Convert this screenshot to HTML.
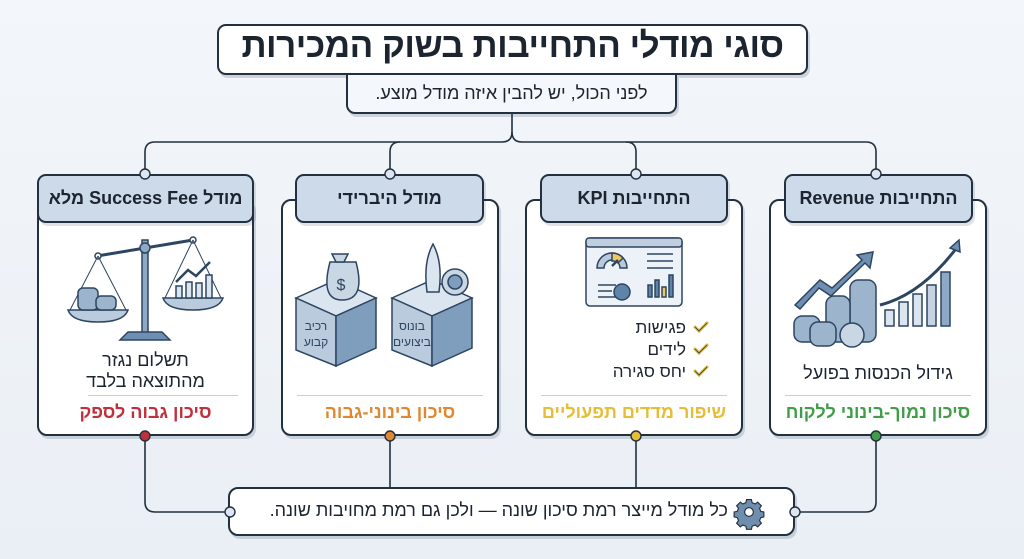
<!DOCTYPE html>
<html><head><meta charset="utf-8"><style>
*{margin:0;padding:0;box-sizing:border-box}
body{width:1024px;height:559px;overflow:hidden;background:linear-gradient(180deg,#f3f6fa,#eaeff5);font-family:"Liberation Sans","Noto Sans CJK JP",sans-serif;position:relative;color:#1c2430}
.a{position:absolute}
.box{position:absolute;background:#fff;border:2px solid #23303f;border-radius:10px;box-shadow:2px 3px 0 rgba(40,60,90,.18)}
.tab{position:absolute;background:#cddaea;border:2px solid #23303f;border-radius:9px;box-shadow:2px 3px 0 rgba(40,60,90,.15);display:flex;align-items:center;justify-content:center;font-weight:bold;font-size:18px;direction:rtl;color:#1c2430}
.t{position:absolute;direction:rtl;text-align:center;white-space:nowrap}
.risk{font-weight:bold;font-size:18px}
.div{position:absolute;height:1px;background:#c9cfd6}
</style></head><body>
<svg class="a" style="left:0;top:0" width="1024" height="559">
<g fill="none" stroke="#23303f" stroke-width="1.6">
<path d="M512 113 V132 Q512 142 502 142 H155 Q145 142 145 152 V174"/>
<path d="M512 132 Q512 142 522 142 H866 Q876 142 876 152 V174"/>
<path d="M400 142 Q390 142 390 152 V174"/>
<path d="M626 142 Q636 142 636 152 V174"/>
<path d="M145 436 V502 Q145 512 155 512 H230"/>
<path d="M390 436 V488"/>
<path d="M636 436 V488"/>
<path d="M876 436 V502 Q876 512 866 512 H795"/>
</g>
</svg>
<div class="box" style="left:217px;top:24px;width:591px;height:51px;border-radius:9px"></div>
<div class="t" style="left:217px;top:26px;width:591px;font-size:35px;font-weight:bold;letter-spacing:-0.5px">סוגי מודלי התחייבות בשוק המכירות</div>
<div class="box" style="left:346px;top:75px;width:331px;height:39px;border-top:none;border-radius:0 0 9px 9px;background:#f4f7fb"></div>
<div class="t" style="left:346px;top:83px;width:331px;font-size:18px">לפני הכול, יש להבין איזה מודל מוצע.</div>

<div class="box" style="left:37px;top:198px;width:217px;height:238px"></div>
<div class="tab" style="left:37px;top:174px;width:217px;height:49px">מודל Success Fee מלא</div>
<div class="box" style="left:281px;top:199px;width:218px;height:237px"></div>
<div class="tab" style="left:295px;top:174px;width:189px;height:49px">מודל היברידי</div>
<div class="box" style="left:525px;top:199px;width:218px;height:237px"></div>
<div class="tab" style="left:540px;top:174px;width:188px;height:49px">התחייבות KPI</div>
<div class="box" style="left:769px;top:199px;width:218px;height:237px"></div>
<div class="tab" style="left:784px;top:174px;width:189px;height:49px">התחייבות Revenue</div>

<div class="div" style="left:88px;top:395px;width:150px"></div>
<div class="div" style="left:297px;top:395px;width:186px"></div>
<div class="div" style="left:541px;top:395px;width:186px"></div>
<div class="div" style="left:785px;top:395px;width:186px"></div>

<div class="t" style="left:37px;top:350px;width:217px;font-size:18px;line-height:21px">תשלום נגזר<br>מהתוצאה בלבד</div>
<div class="t risk" style="left:37px;top:402px;width:217px;color:#c0303a">סיכון גבוה לספק</div>
<div class="t risk" style="left:281px;top:402px;width:218px;color:#e0872f">סיכון בינוני-גבוה</div>
<div class="t risk" style="left:525px;top:402px;width:218px;color:#e6bd35">שיפור מדדים תפעוליים</div>
<div class="t" style="left:769px;top:363px;width:218px;font-size:18px">גידול הכנסות בפועל</div>
<div class="t risk" style="left:769px;top:402px;width:218px;color:#3f9e47">סיכון נמוך-בינוני ללקוח</div>
<div class="t" style="left:580px;top:317px;width:106px;text-align:right;font-size:17px;line-height:22px">פגישות<br>לידים<br>יחס סגירה</div>

<div class="box" style="left:228px;top:487px;width:567px;height:49px"></div>
<div class="t" style="left:240px;top:500px;width:488px;font-size:18px;text-align:right">כל מודל מייצר רמת סיכון שונה — ולכן גם רמת מחויבות שונה.</div>

<svg class="a" style="left:0;top:0" width="1024" height="559">
<g stroke="#23303f" stroke-width="1.4">
<circle cx="145" cy="174" r="5" fill="#dde6f0"/><circle cx="390" cy="174" r="5" fill="#dde6f0"/>
<circle cx="636" cy="174" r="5" fill="#dde6f0"/><circle cx="876" cy="174" r="5" fill="#dde6f0"/>
<circle cx="145" cy="436" r="5" fill="#c0303a"/><circle cx="390" cy="436" r="5" fill="#e0872f"/>
<circle cx="636" cy="436" r="5" fill="#e6bd35"/><circle cx="876" cy="436" r="5" fill="#3f9e47"/>
<circle cx="230" cy="512" r="5" fill="#dde6f0"/><circle cx="795" cy="512" r="5" fill="#dde6f0"/>
</g>
<g transform="translate(749,512) scale(0.62)" fill="#6f8dad" stroke="#23303f" stroke-width="1.8">
<path d="M-4 -20h8l1 5 5 2 4-3 6 6-3 4 2 5 5 1v8l-5 1-2 5 3 4-6 6-4-3-5 2-1 5h-8l-1-5-5-2-4 3-6-6 3-4-2-5-5-1v-8l5-1 2-5-3-4 6-6 4 3 5-2z"/>
<circle r="7" fill="#fff"/>
</g>
<g fill="none" stroke="#d8b63a" stroke-width="3" stroke-linecap="round">
<path d="M695 327l4 4 8-8"/><path d="M695 349l4 4 8-8"/><path d="M695 371l4 4 8-8"/>
</g>
<g stroke="#2d3e52" stroke-width="0.8" fill="none"><path d="M695 327l4 4 8-8"/><path d="M695 349l4 4 8-8"/><path d="M695 371l4 4 8-8"/></g>
<g stroke="#2d4560" stroke-width="1.5">
<rect x="586" y="238" width="96" height="68" rx="4" fill="#edf2f8"/>
<rect x="586" y="238" width="96" height="9" rx="3" fill="#bfcfe0"/>
<path d="M597 268a15 15 0 0 1 30 0h-7a8 8 0 0 0-16 0z" fill="#b8c9dc"/>
<path d="M612 253a15 15 0 0 1 11 5l-5 5a8 8 0 0 0-6-2z" fill="#f0c95c"/>
<path d="M612 266l6-6" stroke-width="2.5"/>
<circle cx="622" cy="292" r="8" fill="#5e84aa"/>
<rect x="648" y="285" width="4" height="12" fill="#5e84aa"/><rect x="655" y="280" width="4" height="17" fill="#5e84aa"/>
<rect x="662" y="287" width="4" height="10" fill="#f0c95c"/><rect x="669" y="275" width="4" height="22" fill="#5e84aa"/>
<path d="M598 285h18M598 291h14M598 297h18M647 254h26M647 261h26M647 268h26"/>
</g>
<g stroke="#2d4560" stroke-width="1.5" fill="#6f8fb2">
<path d="M795 305l25-25 12 8 30-28-5-5 16-3-3 16-5-5-34 33-12-8-19 21z"/>
<rect x="885" y="310" width="9" height="16" fill="#dbe5f0"/><rect x="899" y="302" width="9" height="24" fill="#dbe5f0"/>
<rect x="913" y="294" width="9" height="32" fill="#dbe5f0"/><rect x="927" y="285" width="9" height="41" fill="#c5d4e4"/>
<rect x="941" y="272" width="9" height="54" fill="#8ea9c6"/>
<path d="M880 305 Q920 295 955 250" fill="none" stroke-width="3"/>
<path d="M950 248l9-8 1 12z"/>
<g fill="#9db4cd"><rect x="850" y="280" width="26" height="62" rx="8"/><rect x="826" y="296" width="24" height="46" rx="8"/><rect x="794" y="316" width="26" height="26" rx="8"/><rect x="810" y="322" width="26" height="24" rx="8"/><circle cx="852" cy="335" r="12" fill="#c9d6e4"/></g>
</g>
<g stroke="#2d4560" stroke-width="1.5">
<path d="M296 298l40-18 40 18-40 18z" fill="#dbe5f0"/><path d="M296 298v52l40 16v-50z" fill="#b9cbdd"/><path d="M336 316v50l40-18v-50z" fill="#7f9dbd"/>
<path d="M392 298l40-18 40 18-40 18z" fill="#dbe5f0"/><path d="M392 298v52l40 16v-50z" fill="#b9cbdd"/><path d="M432 316v50l40-18v-50z" fill="#7f9dbd"/>
<path d="M330 262 q-10 38 12 38 q24 0 14-38 z" fill="#c9d6e4"/><path d="M336 262l-4-8h16l-4 8z" fill="#c9d6e4"/>
<circle cx="455" cy="282" r="13" fill="#c9d6e4"/><circle cx="455" cy="282" r="7" fill="#7f9dbd"/>
<path d="M433 244q10 18 6 48h-12q-4-30 6-48z" fill="#dbe5f0"/>
</g>
<text x="341" y="290" font-family="Liberation Sans" font-size="16" fill="#2d4560" text-anchor="middle">$</text>
<text x="316" y="330" font-family="Liberation Sans" font-size="12" fill="#2d4560" text-anchor="middle" direction="rtl">רכיב</text>
<text x="316" y="346" font-family="Liberation Sans" font-size="12" fill="#2d4560" text-anchor="middle" direction="rtl">קבוע</text>
<text x="412" y="330" font-family="Liberation Sans" font-size="12" fill="#2d4560" text-anchor="middle" direction="rtl">בונוס</text>
<text x="412" y="346" font-family="Liberation Sans" font-size="12" fill="#2d4560" text-anchor="middle" direction="rtl">ביצועים</text>
<g stroke="#2d4560" stroke-width="1.5">
<rect x="142" y="240" width="6" height="95" fill="#8ea9c6"/>
<path d="M120 340h50l-8-8h-34z" fill="#6f8fb2"/>
<path d="M97 256l96-16" stroke-width="3"/>
<circle cx="145" cy="248" r="5" fill="#8ea9c6"/><circle cx="98" cy="256" r="3" fill="#fff"/><circle cx="193" cy="240" r="3" fill="#fff"/>
<path d="M98 256l-28 54M98 256l28 54M193 240l-28 58M193 240l28 58" fill="none" stroke-width="1"/>
<path d="M68 310h60q-4 12-30 12t-30-12z" fill="#b9cbdd"/>
<path d="M163 298h60q-4 12-30 12t-30-12z" fill="#b9cbdd"/>
<rect x="78" y="288" width="20" height="22" rx="5" fill="#9db4cd"/><rect x="96" y="296" width="20" height="14" rx="5" fill="#9db4cd"/>
<rect x="176" y="286" width="6" height="12" fill="#dbe5f0"/><rect x="186" y="282" width="6" height="16" fill="#dbe5f0"/><rect x="196" y="283" width="6" height="15" fill="#dbe5f0"/><rect x="206" y="275" width="6" height="23" fill="#dbe5f0"/>
<path d="M176 282l12-12 8 6 14-14" fill="none" stroke-width="2.5"/>
</g>
</svg>
</body></html>
